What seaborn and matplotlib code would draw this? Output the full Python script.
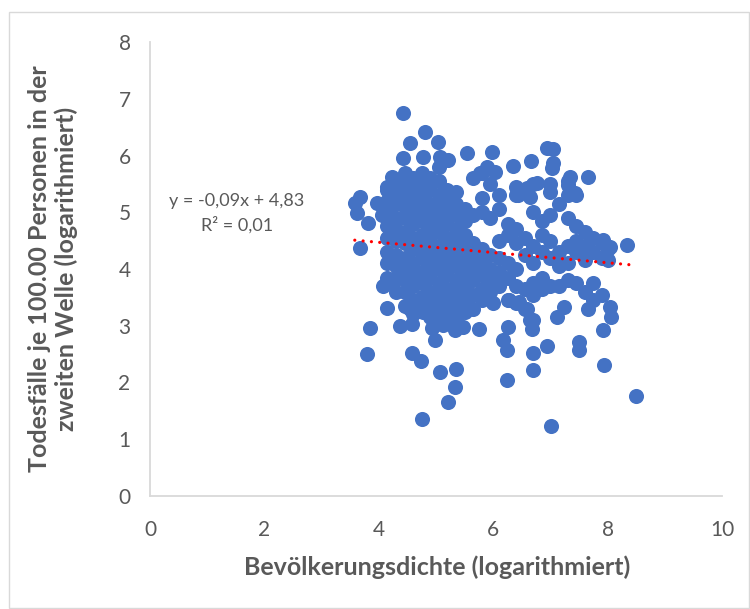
import numpy as np
import pandas as pd
import matplotlib
matplotlib.use("Agg")
import matplotlib.pyplot as plt
import seaborn as sns
from matplotlib.patches import Rectangle

# ---------------- data ----------------
# dense core, column by column
core_cols = [
    (4.15, [3.85, 4.1, 4.3, 4.55, 4.75, 5.0, 5.2, 5.4]),
    (4.3, [3.6, 3.85, 4.05, 4.25, 4.5, 4.7, 4.9, 5.15, 5.35, 5.55]),
    (4.45, [3.35, 3.6, 3.8, 4.0, 4.2, 4.45, 4.65, 4.9, 5.1, 5.3, 5.5, 5.7]),
    (4.6, [3.2, 3.45, 3.7, 3.9, 4.1, 4.35, 4.55, 4.8, 5.0, 5.2, 5.45, 5.6]),
    (4.75, [3.3, 3.5, 3.75, 3.95, 4.2, 4.4, 4.6, 4.85, 5.05, 5.3, 5.5, 5.7]),
    (4.9, [3.15, 3.4, 3.6, 3.85, 4.05, 4.3, 4.5, 4.7, 4.95, 5.15, 5.4, 5.6]),
    (5.05, [3.05, 3.3, 3.55, 3.75, 4.0, 4.2, 4.4, 4.65, 4.85, 5.1, 5.3, 5.55, 5.8]),
    (5.2, [3.2, 3.45, 3.65, 3.9, 4.1, 4.35, 4.55, 4.8, 5.0, 5.2, 5.4]),
    (5.35, [3.1, 3.35, 3.6, 3.8, 4.05, 4.25, 4.5, 4.7, 4.95, 5.15, 5.35]),
    (5.5, [3.25, 3.45, 3.7, 3.95, 4.15, 4.4, 4.6, 4.85, 5.05]),
    (5.65, [3.3, 3.55, 3.8, 4.0, 4.25, 4.45, 4.95, 5.6]),
    (5.8, [3.45, 3.65, 3.9, 4.1, 4.35, 5.0, 5.25, 5.7]),
    (5.95, [3.6, 3.8, 4.0, 4.25, 4.9, 5.5]),
    (6.1, [3.7, 3.95, 4.2, 4.5, 5.05, 5.3]),
    (6.25, [3.45, 3.85, 4.1, 4.6, 4.8]),
    (6.4, [3.4, 3.7, 4.0, 4.45, 4.7, 5.3, 5.45]),
    (6.55, [3.3, 3.65, 4.25, 4.55, 5.35]),
    (6.7, [3.1, 3.55, 3.75, 4.1, 4.4, 5.0, 5.5]),
    (6.85, [3.65, 3.85, 4.3, 4.6, 4.85]),
    (7.0, [3.7, 4.2, 4.5, 4.95, 5.35, 5.5]),
    (7.15, [3.7, 4.05, 4.3, 5.15]),
    (7.3, [3.8, 4.1, 4.4, 4.9, 5.3, 5.55]),
    (7.45, [3.75, 4.3, 4.5, 4.75, 5.3]),
    (7.6, [3.6, 4.15, 4.4, 4.65]),
    (7.75, [3.45, 3.75, 4.3, 4.55]),
    (7.9, [3.55, 4.2, 4.45]),
    (8.0, [4.15, 4.35]),
]

# scattered outer points
outer_x = [4.42, 4.81, 4.55, 5.03, 4.42, 4.77, 5.07, 5.21, 5.54, 5.98, 5.77, 5.89, 6.03,
           6.94, 7.05, 6.66, 6.35, 7.05, 7.03, 7.66, 7.34, 7.31, 7.43, 6.77, 6.59, 6.43,
           6.64, 7.92, 8.04, 8.34, 4.23, 3.67, 3.58, 3.62, 3.81, 3.67, 3.97, 4.06, 4.14,
           4.07, 4.25, 4.14, 3.85, 3.79, 4.37, 4.58, 4.55, 4.77, 4.58, 4.74, 5.07, 5.35,
           5.33, 5.21, 4.76, 4.98, 4.93, 5.12, 5.33, 5.47, 5.75, 5.16, 5.28, 6.26, 6.17,
           6.24, 6.24, 6.68, 6.70, 6.70, 6.94, 7.01, 7.11, 7.24, 7.50, 7.50, 7.66, 7.92,
           7.94, 8.04, 8.06, 8.50, 6.64, 6.45, 6.59, 6.00, 6.28]
outer_y = [6.75, 6.41, 6.22, 6.24, 5.96, 5.97, 5.97, 5.92, 6.04, 6.06, 5.69, 5.80, 5.71,
           6.13, 6.11, 5.90, 5.81, 5.87, 5.78, 5.62, 5.62, 5.48, 5.34, 5.52, 5.43, 5.30,
           5.27, 4.51, 4.39, 4.42, 5.62, 5.27, 5.16, 4.99, 4.81, 4.37, 5.16, 4.95, 5.44,
           3.70, 3.75, 3.31, 2.96, 2.50, 3.00, 3.03, 3.30, 3.24, 2.52, 2.38, 2.19, 2.24,
           1.92, 1.66, 1.36, 2.75, 2.96, 3.01, 2.93, 2.98, 2.94, 3.33, 3.15, 2.98, 2.75,
           2.57, 2.04, 2.94, 2.52, 2.22, 2.64, 1.23, 3.15, 3.33, 2.71, 2.57, 3.30, 2.93,
           2.31, 3.33, 3.15, 1.76, 3.10, 3.42, 3.30, 3.40, 3.45]

trend_slope = -0.09
trend_intercept = 4.83

x_ticks = [0, 2, 4, 6, 8, 10]
y_ticks = [0, 1, 2, 3, 4, 5, 6, 7, 8]

x_label = "Bevölkerungsdichte (logarithmiert)"
y_label = "Todesfälle je 100.00 Personen in der\nzweiten Welle (logarithmiert)"
eq_text = "y = -0,09x + 4,83\nR² = 0,01"

# ---------------- build frame ----------------
xs, ys = [], []
for cx, col in core_cols:
    for cy in col:
        xs.append(cx)
        ys.append(cy)
xs += outer_x
ys += outer_y
df = pd.DataFrame({"x": xs, "y": ys})

sns.set_style("white")
plt.rcParams["font.family"] = ["Lato", "DejaVu Sans"]

fig = plt.figure(figsize=(7.5, 6.09), dpi=100)
ax = fig.add_axes([0.2, 1 - 496 / 609, 0.9627 - 0.2, (496 - 42) / 609])

blue = "#4472C4"
grey = "#595959"

sns.scatterplot(data=df, x="x", y="y", ax=ax, s=118, color=blue,
                linewidth=0, alpha=1, zorder=3)

tx = np.array([df["x"].min(), df["x"].max()])
tdf = pd.DataFrame({"x": tx, "y": trend_slope * tx + trend_intercept})
sns.lineplot(data=tdf, x="x", y="y", ax=ax, color="#FF0000", linewidth=2.3,
             zorder=4, dashes=False)
line = ax.lines[-1]
line.set_linestyle((0, (0.01, 2.6)))
line.set_dash_capstyle("round")

ax.set_xlim(0, 10)
ax.set_ylim(0, 8)
ax.set_xticks(x_ticks)
ax.set_yticks(y_ticks)
ax.tick_params(length=0, labelsize=15, labelcolor=grey, pad=14)
ax.tick_params(axis="x", pad=17)
for s in ["top", "right"]:
    ax.spines[s].set_visible(False)
for s in ["left", "bottom"]:
    ax.spines[s].set_color("#D9D9D9")
    ax.spines[s].set_linewidth(1.3)

ax.set_xlabel(x_label, fontsize=18, fontweight="bold", color=grey)
ax.set_ylabel(y_label, fontsize=18, fontweight="bold", color=grey,
              linespacing=1.2)
ax.xaxis.set_label_coords(0.502, (496 - 555) / 454)
ax.yaxis.set_label_coords((78 - 150) / 572, 0.5)

ax.text(1.52, 4.98, eq_text, ha="center", va="center", fontsize=13,
        color=grey, linespacing=1.5)

fig.patches.append(Rectangle((9 / 750, 1 / 609), 740 / 750, 596 / 609,
                             transform=fig.transFigure, fill=False,
                             edgecolor="#D9D9D9", linewidth=1.0))

fig.savefig("out.png", dpi=100)
